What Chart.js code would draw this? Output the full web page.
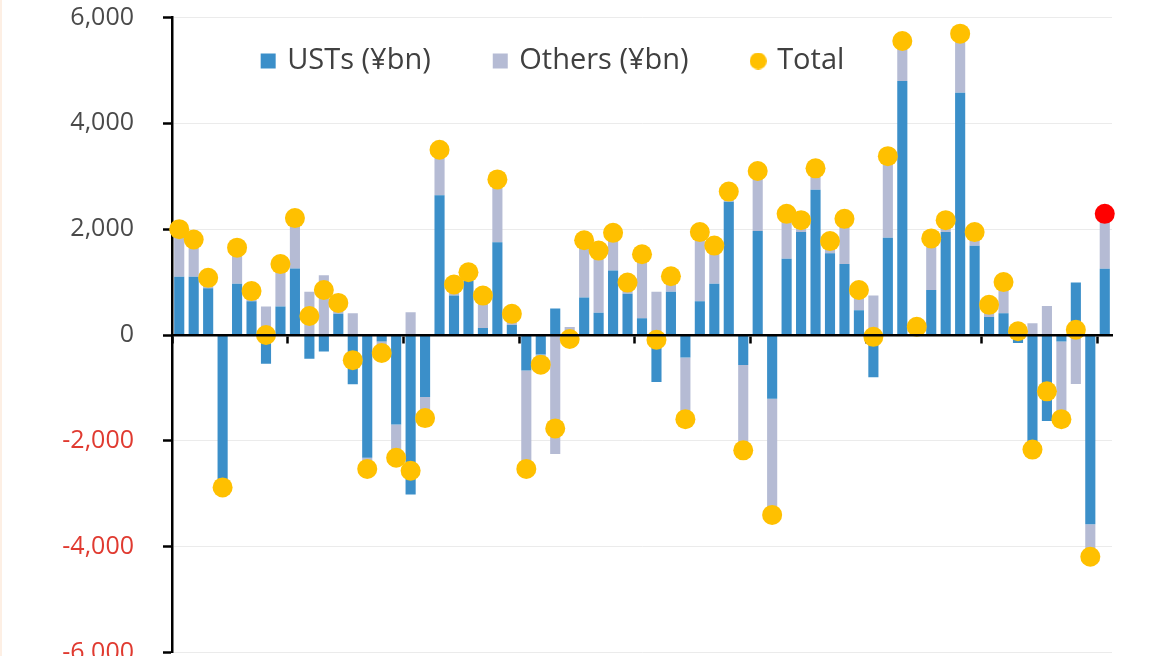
<!DOCTYPE html>
<html>
<head>
<meta charset="utf-8">
<script src="https://cdn.jsdelivr.net/npm/chart.js@4.4.1/dist/chart.umd.min.js"></script>
<style>
  html, body { margin: 0; padding: 0; background: #fff; overflow: hidden; }
  body { width: 1168px; height: 656px; position: relative; }
  #wrap { position: absolute; left: 0; top: 0; width: 1168px; height: 690px; }
  .edge { position: absolute; left: 0; top: 0; width: 2px; height: 656px; background: #fdefe4; }
</style>
</head>
<body>
<div id="wrap"><canvas id="chart"></canvas></div>
<div class="edge"></div>
<script>
// months in the sample, oldest first (axis labels are cut off in the picture)
const categories = [1, 2, 3, 4, 5, 6, 7, 8, 9, 10, 11, 12, 13, 14, 15, 16, 17, 18, 19, 20,
  21, 22, 23, 24, 25, 26, 27, 28, 29, 30, 31, 32, 33, 34, 35, 36, 37, 38, 39, 40,
  41, 42, 43, 44, 45, 46, 47, 48, 49, 50, 51, 52, 53, 54, 55, 56, 57, 58, 59, 60,
  61, 62, 63, 64, 65];

const usts = [1100, 1100, 885, -2740, 970, 640, -545, 537, 1255, -450,
  -314, 400, -930, -2320, -125, -1690, -3015, -1170, 2640, 745,
  1025, 130, 1755, 190, -670, -370, 500, -40, 710, 420,
  1220, 780, 315, -890, 815, -425, 640, 970, 2520, -565,
  1965, -1205, 1440, 1945, 2745, 1545, 1340, 467, -800, 1840,
  4800, 100, 850, 1945, 4580, 1685, 340, 410, -150, -2145,
  -1625, -125, 990, -3575, 1250];

const others = [900, 705, 195, -140, 680, 190, 537, 803, 955, 815,
  1130, 206, 410, -210, -215, -630, 430, -400, 860, 210,
  160, 615, 1185, 210, -1860, -190, -2250, 150, 1080, 1175,
  710, 210, 1210, 815, 295, -1165, 1305, 720, 190, -1685,
  1135, -2195, 850, 225, 405, 230, 855, 383, 745, 1540,
  755, 55, 975, 225, 1115, 260, 230, 590, 220, 220,
  550, -1465, -925, -615, 1040];

const totals = [2000, 1805, 1080, -2880, 1650, 830, 0, 1340, 2210, 360,
  850, 606, -475, -2530, -340, -2320, -2565, -1570, 3500, 955,
  1185, 745, 2940, 400, -2530, -560, -1765, -75, 1790, 1595,
  1930, 990, 1525, -90, 1110, -1590, 1945, 1690, 2710, -2180,
  3100, -3400, 2290, 2170, 3150, 1775, 2195, 850, -35, 3380,
  5555, 155, 1825, 2170, 5695, 1945, 570, 1000, 70, -2165,
  -1065, -1590, 100, -4190, 2290];

const yTicks = [-6000, -4000, -2000, 0, 2000, 4000, 6000];

const blue = "#3b8fc9";
const grey = "#b5bbd4";
const gold = "#ffc000";
const red = "#ff0000";
const tickEvery = 8;

Chart.defaults.font.family = "'Open Sans', 'Noto Sans', sans-serif";

// little gold dot for the "Total" legend entry
const dot = document.createElement("canvas");
dot.width = 17;
dot.height = 17;
const dctx = dot.getContext("2d");
dctx.fillStyle = gold;
dctx.beginPath();
dctx.arc(8.5, 8.5, 8.5, 0, Math.PI * 2);
dctx.fill();

// legend sits inside the plot area, like the original
const legendInside = {
    id: "legendInside",
    beforeInit(chart) {
        const fit = chart.legend.fit;
        chart.legend.fit = function () {
            fit.call(this);
            this.height = 0;
        };
    },
    afterLayout(chart) {
        const lg = chart.legend;
        lg.left -= 3;
        lg.right -= 3;
        lg.top = -18.5;
        lg.bottom = 130;
        lg.height = lg.bottom - lg.top;
    }
};

const ctx = document.getElementById("chart").getContext("2d");
new Chart(ctx, {
    type: "bar",
    data: {
        labels: categories,
        datasets: [{
            label: "USTs (¥bn)",
            data: usts,
            backgroundColor: blue,
            borderWidth: 0,
            stack: "flows",
            order: 1,
            pointStyle: "rect",
            barPercentage: 0.7,
            categoryPercentage: 1
        }, {
            label: "Others (¥bn)",
            data: others,
            backgroundColor: grey,
            borderWidth: 0,
            stack: "flows",
            order: 1,
            pointStyle: "rect",
            barPercentage: 0.7,
            categoryPercentage: 1
        }, {
            type: "line",
            label: "Total",
            data: totals,
            stack: "total",
            order: 0,
            showLine: false,
            pointRadius: 10,
            pointHoverRadius: 10,
            pointBorderWidth: 0,
            pointBackgroundColor: totals.map((v, i) => i === totals.length - 1 ? red : gold),
            backgroundColor: gold
        }]
    },
    options: {
        responsive: true,
        maintainAspectRatio: false,
        animation: false,
        layout: {
            padding: { left: 2, right: 56, top: 17.5, bottom: 37.5 }
        },
        scales: {
            x: {
                type: "category",
                stacked: true,
                offset: true,
                position: { y: 0 },
                ticks: { display: false },
                grid: {
                    display: true,
                    offset: true,
                    drawOnChartArea: false,
                    drawTicks: true,
                    tickLength: 7,
                    tickWidth: 2.5,
                    tickColor: (c) => (c.index % tickEvery === 0 ? "#000" : "rgba(0,0,0,0)")
                },
                border: { display: true, color: "#000", width: 2.5, z: 1 }
            },
            y: {
                stacked: true,
                min: -6000,
                max: 6000,
                afterBuildTicks: (scale) => {
                    scale.ticks = yTicks.map(v => ({ value: v }));
                },
                afterFit: (scale) => {
                    scale.width = 170;
                    scale.paddingTop = 0;
                    scale.paddingBottom = 0;
                },
                ticks: {
                    padding: 29,
                    font: { size: 25 },
                    color: (c) => (c.tick && c.tick.value < 0 ? "#e03a30" : "#4a4a4a"),
                    callback: (v) => Number(v).toLocaleString("en-US")
                },
                grid: {
                    color: "#ebebeb",
                    lineWidth: 1,
                    tickLength: 9,
                    tickColor: "#000",
                    tickWidth: 2.5
                },
                border: { display: true, color: "#000", width: 2.5 }
            }
        },
        plugins: {
            legend: {
                position: "top",
                labels: {
                    usePointStyle: true,
                    boxWidth: 9,
                    boxHeight: 15,
                    padding: 65,
                    color: "#404040",
                    font: { size: 29 },
                    sort: (a, b) => a.datasetIndex - b.datasetIndex,
                    generateLabels: (chart) => {
                        const items = Chart.defaults.plugins.legend.labels.generateLabels(chart);
                        items.forEach(it => {
                            it.pointStyle = it.datasetIndex === 2 ? dot : "rect";
                            it.lineWidth = 0;
                        });
                        return items;
                    }
                }
            },
            tooltip: { enabled: false }
        }
    },
    plugins: [legendInside]
});
</script>
</body>
</html>
